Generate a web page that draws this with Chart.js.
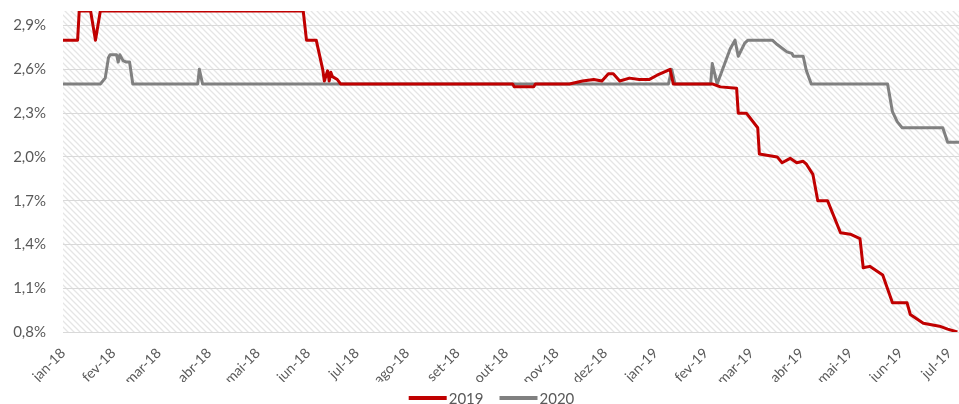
<!DOCTYPE html>
<html>
<head>
<meta charset="utf-8">
<script src="https://cdn.jsdelivr.net/npm/chart.js@4.4.1/dist/chart.umd.min.js"></script>
<style>
  html, body { margin: 0; padding: 0; background: #fff; }
  #wrap { width: 959px; height: 404px; position: relative; }
</style>
</head>
<body>
<div id="wrap"><canvas id="chart"></canvas></div>
<script>
// Month labels on the x axis and the day (from 1 jan 2018) where each month starts
const xLabels = ['jan-18', 'fev-18', 'mar-18', 'abr-18', 'mai-18', 'jun-18', 'jul-18', 'ago-18', 'set-18',
    'out-18', 'nov-18', 'dez-18', 'jan-19', 'fev-19', 'mar-19', 'abr-19', 'mai-19', 'jun-19', 'jul-19'];
const monthStartDays = [0, 31, 59, 90, 120, 151, 181, 212, 243, 273, 304, 334, 365, 396, 424, 455, 485, 516, 546];
const lastDay = 552;

// Y axis ticks (%)
const yTicks = [0.8, 1.1, 1.4, 1.7, 2.0, 2.3, 2.6, 2.9];

// 2019 series: day offsets and values (%)
const days2019 = [0, 9, 10, 17, 20, 23, 148, 150, 156, 160, 161, 163, 164, 165, 166, 169, 171,
    277, 278, 290, 291, 312, 320, 327, 332, 336, 339, 343, 349, 355, 361, 366, 372, 374, 376,
    400, 405, 415, 416, 421, 428, 429, 440, 443, 448, 452, 456, 458, 462, 465, 471, 479, 485,
    491, 493, 497, 505, 511, 520, 522, 530, 540, 545, 551];
const values2019 = [2.8, 2.8, 3.0, 3.0, 2.8, 3.0, 3.0, 2.8, 2.8, 2.6, 2.52, 2.59, 2.52, 2.58, 2.55, 2.53, 2.5,
    2.5, 2.48, 2.48, 2.5, 2.5, 2.52, 2.53, 2.52, 2.57, 2.57, 2.52, 2.54, 2.53, 2.53, 2.56, 2.59, 2.6, 2.5,
    2.5, 2.48, 2.47, 2.3, 2.3, 2.2, 2.02, 2.0, 1.96, 1.99, 1.96, 1.97, 1.95, 1.88, 1.7, 1.7, 1.48, 1.47,
    1.44, 1.24, 1.25, 1.19, 1.0, 1.0, 0.92, 0.86, 0.84, 0.82, 0.8];

// 2020 series: day offsets and values (%)
const days2020 = [0, 23, 26, 28, 29, 33, 34, 35, 37, 39, 41, 43, 83, 84, 86,
    373, 375, 377, 399, 400, 403, 411, 414, 416, 420, 422, 437, 440, 446, 449, 450, 456, 458, 461,
    508, 511, 514, 517, 542, 545, 552];
const values2020 = [2.5, 2.5, 2.54, 2.68, 2.7, 2.7, 2.65, 2.7, 2.66, 2.65, 2.65, 2.5, 2.5, 2.6, 2.5,
    2.5, 2.6, 2.5, 2.5, 2.64, 2.5, 2.74, 2.8, 2.69, 2.78, 2.8, 2.8, 2.77, 2.72, 2.71, 2.69, 2.69, 2.59, 2.5,
    2.5, 2.31, 2.24, 2.2, 2.2, 2.1, 2.1];

const toPoints = (days, values) => days.map((d, i) => ({ x: d, y: values[i] }));

const textColor = '#595959';
const fontName = 'Lato';

// hatched background like the original
function makeHatch() {
    const c = document.createElement('canvas');
    c.width = 6; c.height = 6;
    const g = c.getContext('2d');
    g.fillStyle = '#ffffff';
    g.fillRect(0, 0, 6, 6);
    g.strokeStyle = '#e5e5e5';
    g.lineWidth = 1.3;
    g.beginPath();
    g.moveTo(-1, -1); g.lineTo(7, 7);
    g.moveTo(-1, 5); g.lineTo(1, 7);
    g.moveTo(5, -1); g.lineTo(7, 1);
    g.stroke();
    return c;
}

const hatchPlugin = {
    id: 'hatch',
    beforeDraw(chart) {
        const { ctx, chartArea: a } = chart;
        ctx.save();
        ctx.fillStyle = ctx.createPattern(makeHatch(), 'repeat');
        ctx.fillRect(a.left, a.top, a.right - a.left, a.bottom - a.top);
        ctx.restore();
    }
};

// legend at the bottom: short thick line + label, like the excel one
const bottomLegend = {
    id: 'bottomLegend',
    afterDraw(chart) {
        const ctx = chart.ctx;
        const sets = chart.data.datasets;
        const lineW = 38, gapText = 2, gapItem = 16;
        ctx.save();
        ctx.font = '15px ' + fontName;
        const widths = sets.map(ds => lineW + gapText + ctx.measureText(ds.label).width);
        const total = widths.reduce((a, b) => a + b, 0) + gapItem * (sets.length - 1);
        let x = (chart.width - total) / 2 + 12;
        const y = 398;
        sets.forEach((ds, i) => {
            ctx.fillStyle = ds.borderColor;
            ctx.fillRect(x, y - 2, lineW, 4);
            ctx.fillStyle = textColor;
            ctx.textBaseline = 'middle';
            ctx.fillText(ds.label, x + lineW + gapText, y + 1);
            x += widths[i] + gapItem;
        });
        ctx.restore();
    }
};

new Chart(document.getElementById('chart'), {
    type: 'line',
    data: {
        datasets: [
            {
                label: '2019',
                data: toPoints(days2019, values2019),
                borderColor: '#C00000',
                borderWidth: 3,
                pointRadius: 0,
                tension: 0,
                borderJoinStyle: 'round'
            },
            {
                label: '2020',
                data: toPoints(days2020, values2020),
                borderColor: '#808080',
                borderWidth: 3,
                pointRadius: 0,
                tension: 0,
                borderJoinStyle: 'round'
            }
        ]
    },
    options: {
        responsive: true,
        maintainAspectRatio: false,
        animation: false,
        layout: { autoPadding: false, padding: { top: 11, right: 0, left: 0, bottom: 22 } },
        scales: {
            x: {
                type: 'linear',
                min: 0,
                max: lastDay,
                afterBuildTicks: scale => {
                    scale.ticks = monthStartDays.map(v => ({ value: v }));
                },
                afterFit: scale => {
                    scale.height = 50;
                    scale.paddingLeft = 0;
                    scale.paddingRight = 0;
                },
                grid: { display: false },
                border: { display: false },
                ticks: {
                    autoSkip: false,
                    minRotation: 45,
                    maxRotation: 45,
                    padding: 5,
                    color: textColor,
                    font: { family: fontName, size: 14 },
                    callback: (value, index) => xLabels[index]
                }
            },
            y: {
                min: 0.8,
                max: 3.0,
                afterBuildTicks: scale => {
                    scale.ticks = yTicks.map(v => ({ value: v }));
                },
                afterFit: scale => {
                    scale.width = 63;
                    scale.paddingTop = 0;
                    scale.paddingBottom = 0;
                },
                grid: { color: '#d9d9d9', lineWidth: 1, drawTicks: false },
                border: { display: false },
                ticks: {
                    padding: 17,
                    color: textColor,
                    font: { family: fontName, size: 15 },
                    callback: v => v.toFixed(1).replace('.', ',') + '%'
                }
            }
        },
        plugins: {
            legend: { display: false },
            tooltip: { enabled: false }
        }
    },
    plugins: [hatchPlugin, bottomLegend]
});
</script>
</body>
</html>
